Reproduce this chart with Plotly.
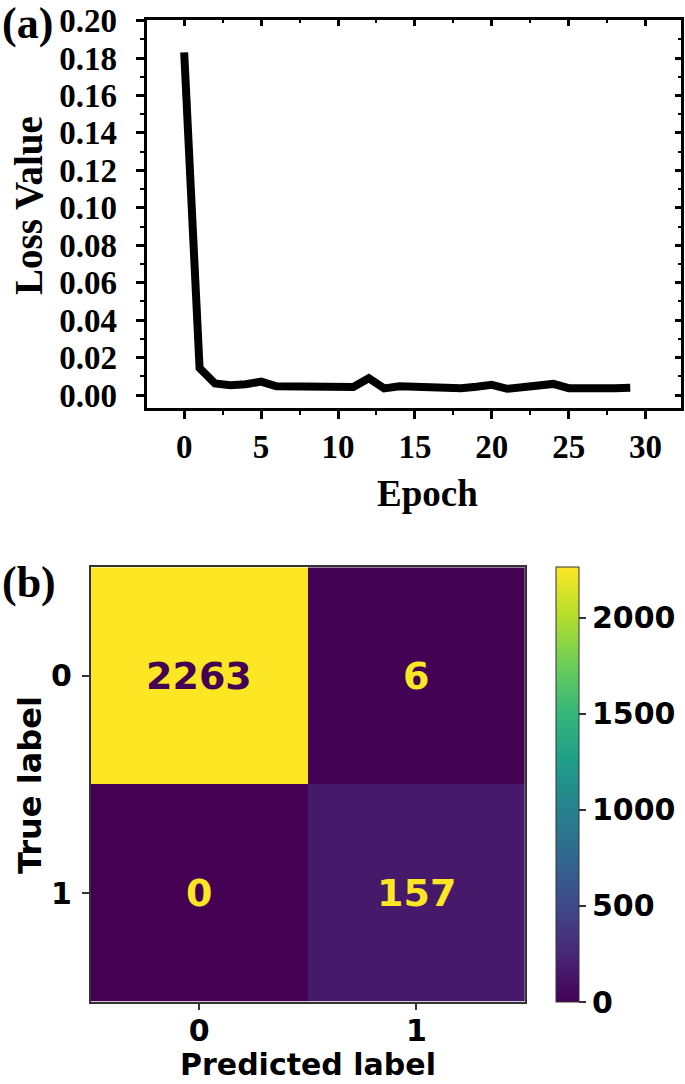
import plotly.graph_objects as go

# ---- data ----
epochs = list(range(30))
loss = [0.183, 0.0145, 0.0062, 0.0053, 0.0058, 0.0072, 0.0047, 0.0045, 0.0044, 0.0042,
        0.0042, 0.0044, 0.0090, 0.0036, 0.0047, 0.0040, 0.0042, 0.0040, 0.0037, 0.0045,
        0.0055, 0.0034, 0.0044, 0.0044, 0.0060, 0.0037, 0.0042, 0.0037, 0.0037, 0.0040]
x_ticks = [0, 5, 10, 15, 20, 25, 30]
y_ticks = [0.00, 0.02, 0.04, 0.06, 0.08, 0.10, 0.12, 0.14, 0.16, 0.18, 0.20]

classes = [0, 1]
cm = [[2263, 6],
      [0, 157]]
cbar_ticks = [0, 500, 1000, 1500, 2000]

W, H = 685, 1084
def px(v):
    return v / W
def py(v):
    return 1 - v / H

serif = dict(family="Liberation Serif", color="black", weight="bold")
sans = dict(family="DejaVu Sans", color="black", weight="bold")

fig = go.Figure()
fig.add_trace(go.Scatter(x=epochs, y=loss, mode="lines",
                         line=dict(color="black", width=8),
                         xaxis="x", yaxis="y", hoverinfo="skip"))
fig.add_trace(go.Scatter(x=epochs, y=loss, mode="lines", opacity=0,
                         line=dict(color="black", width=1),
                         xaxis="x3", yaxis="y3", hoverinfo="skip"))

vmax = max(max(r) for r in cm)
fig.add_trace(go.Heatmap(
    z=cm, x=classes, y=classes, colorscale="Viridis", zmin=0, zmax=vmax,
    xaxis="x2", yaxis="y2", hoverinfo="skip",
    colorbar=dict(x=px(556), xanchor="left", y=py(784.5), yanchor="middle",
                  len=434.5, lenmode="pixels", thickness=23, thicknessmode="pixels",
                  xpad=0, ypad=0, outlinewidth=1, outlinecolor="#333",
                  tickvals=cbar_ticks, ticks="outside", ticklen=7, tickwidth=1.5,
                  tickcolor="#333", tickprefix="\u2006",
                  tickfont=dict(size=30, **sans))))

xr = [-2.45, 32.3]
yr = [-0.0066, 0.2003]
common_line = dict(showline=True, linecolor="black", linewidth=3, showgrid=False,
                   zeroline=False, automargin=False)

layout = dict(
    width=W, height=H, margin=dict(l=0, r=0, t=0, b=0, autoexpand=False),
    paper_bgcolor="white", plot_bgcolor="white", showlegend=False,
    xaxis=dict(domain=[px(146.5), px(681)], anchor="y", range=xr,
               tickvals=x_ticks, ticks="outside", ticklen=8, tickwidth=3,
               tickcolor="black", tickfont=dict(size=33, **serif),
               ticklabelstandoff=0,
               minor=dict(dtick=2.5, tick0=0, ticks="outside", ticklen=4,
                          tickwidth=2, tickcolor="black"),
               **common_line),
    yaxis=dict(domain=[py(407.5), py(20)], anchor="x", range=yr,
               tickvals=y_ticks, tickformat=".2f", ticks="outside", ticklen=8,
               tickwidth=3, tickcolor="black", tickfont=dict(size=33, **serif),
               ticklabelstandoff=12,
               minor=dict(dtick=0.01, tick0=0, ticks="outside", ticklen=4,
                          tickwidth=2, tickcolor="black"),
               **common_line),
    xaxis3=dict(overlaying="x", side="top", anchor="y3", range=xr,
                tickvals=x_ticks, ticks="inside", ticklen=6, tickwidth=3,
                tickcolor="black", showticklabels=False,
                minor=dict(dtick=2.5, tick0=0, ticks="inside", ticklen=3,
                           tickwidth=2, tickcolor="black"),
                **common_line),
    yaxis3=dict(overlaying="y", side="right", anchor="x3", range=yr,
                tickvals=y_ticks, ticks="inside", ticklen=6, tickwidth=3,
                tickcolor="black", showticklabels=False,
                minor=dict(dtick=0.01, tick0=0, ticks="inside", ticklen=3,
                           tickwidth=2, tickcolor="black"),
                **common_line),
    xaxis2=dict(domain=[px(90.7), px(525)], anchor="y2", range=[-0.5, 1.5],
                tickvals=classes, ticks="outside", ticklen=7, tickwidth=1.5,
                tickcolor="#333", showline=True, mirror=True, linecolor="#333",
                linewidth=1.5, showgrid=False, zeroline=False, automargin=False,
                tickfont=dict(size=30, **sans), ticklabelstandoff=-5),
    yaxis2=dict(domain=[py(1001.7), py(567.3)], anchor="x2", range=[1.5, -0.5],
                tickvals=classes, ticks="outside", ticklen=7, tickwidth=1.5,
                tickcolor="#333", showline=True, mirror=True, linecolor="#333",
                linewidth=1.5, showgrid=False, zeroline=False, automargin=False,
                tickfont=dict(size=30, **sans), ticklabelstandoff=4),
)
fig.update_layout(**layout)

ann = [
    dict(text="(a)", x=px(0), y=py(-3), xanchor="left", yanchor="top",
         font=dict(size=44, **serif)),
    dict(text="(b)", x=px(0), y=py(556), xanchor="left", yanchor="top",
         font=dict(size=44, **serif)),
    dict(text="Loss Value", x=px(29), y=py(206), xanchor="center", yanchor="middle",
         textangle=-90, font=dict(size=39, **serif)),
    dict(text="Epoch", x=px(427), y=py(493), xanchor="center", yanchor="middle",
         font=dict(size=37, **serif)),
    dict(text="True label", x=px(30), y=py(785), xanchor="center", yanchor="middle",
         textangle=-90, font=dict(size=32, **sans)),
    dict(text="Predicted label", x=px(308), y=py(1084), xanchor="center",
         yanchor="bottom", yshift=0, font=dict(size=30, **sans)),
]
for a in ann:
    a.update(xref="paper", yref="paper", showarrow=False)

for i, row in enumerate(cm):
    for j, v in enumerate(row):
        col = "#440154" if v > vmax / 2 else "#fde725"
        ann.append(dict(text=str(v), x=classes[j], y=classes[i], xref="x2", yref="y2",
                        showarrow=False, font=dict(size=38, family="DejaVu Sans",
                                                   color=col, weight="bold")))
fig.update_layout(annotations=ann)

fig.write_html("out.html", config={"displayModeBar": False},
               post_script="document.body.style.margin='0';document.body.style.overflow='hidden';")
